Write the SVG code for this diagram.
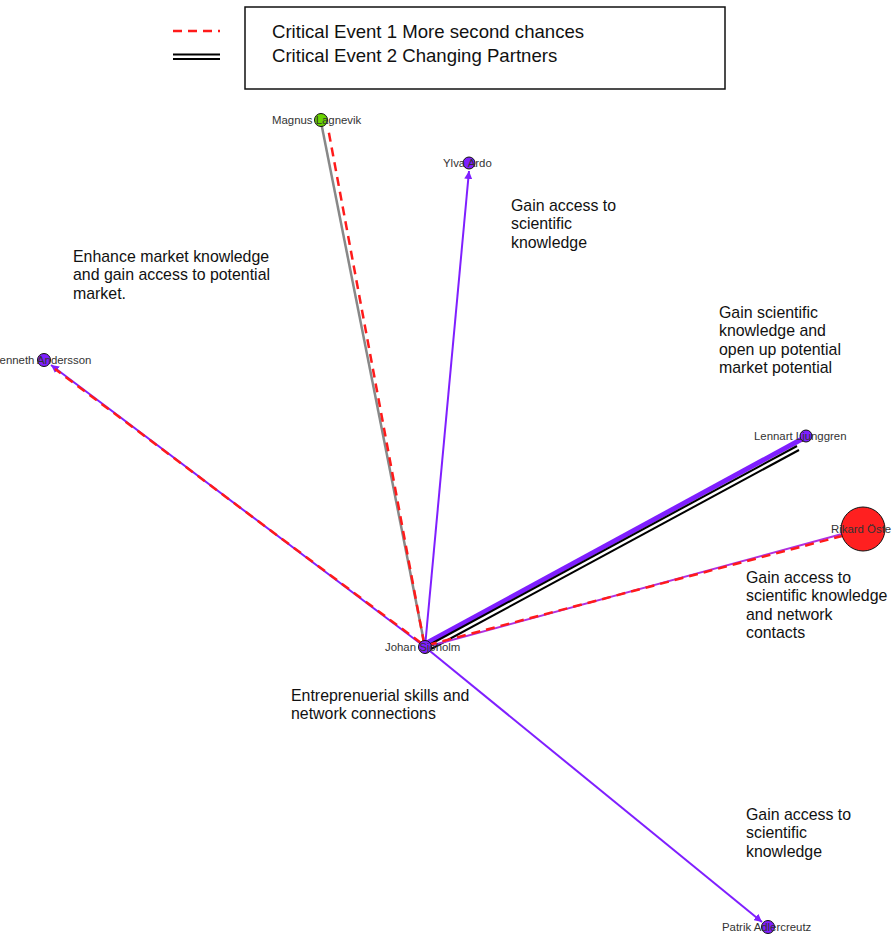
<svg xmlns="http://www.w3.org/2000/svg" width="896" height="938" viewBox="0 0 896 938">
<defs>
<marker id="arr" viewBox="0 0 10 10" refX="10" refY="5" markerWidth="4" markerHeight="4" orient="auto" markerUnits="strokeWidth">
<path d="M0,0 L10,5 L0,10 z" fill="#7f1fff"/>
</marker>
</defs>
<style>
.lbl{font-family:"Liberation Sans",Arial,sans-serif;font-size:11.4px;fill:#333}
.ann{font-family:"Liberation Sans",Arial,sans-serif;font-size:15.9px;fill:#111}
.leg{font-family:"Liberation Sans",Arial,sans-serif;font-size:18.6px;fill:#111}
.pur{stroke:#7f1fff;stroke-width:2;fill:none}
.red{stroke:#ff1a1a;stroke-width:2.5;stroke-dasharray:9 6;fill:none}
.node{stroke:#111;stroke-width:1}
</style>
<rect width="896" height="938" fill="#fff"/>
<g id="legend">
<rect x="245" y="7" width="480" height="82" fill="#fff" stroke="#111" stroke-width="1.5"/>
<line x1="173" y1="31" x2="220" y2="31" class="red"/>
<line x1="173" y1="54.5" x2="220" y2="54.5" stroke="#000" stroke-width="2"/>
<line x1="173" y1="59" x2="220" y2="59" stroke="#000" stroke-width="2"/>
<text x="272" y="37.5" class="leg">Critical Event 1 More second chances</text>
<text x="272" y="61.5" class="leg">Critical Event 2 Changing Partners</text>
</g>
<g id="connectors">
<line x1="425" y1="647" x2="321" y2="122" stroke="#888" stroke-width="2.5"/>
<line x1="424" y1="643" x2="328" y2="128" class="red"/>
<line x1="425" y1="647" x2="469" y2="171" class="pur" marker-end="url(#arr)"/>
<line x1="425" y1="647" x2="51" y2="365" class="pur" marker-end="url(#arr)"/>
<line x1="421" y1="643" x2="55" y2="369" class="red"/>
<line x1="425" y1="644" x2="802" y2="439" stroke="#7f1fff" stroke-width="5"/>
<line x1="429" y1="645" x2="797" y2="446" stroke="#000" stroke-width="2"/>
<line x1="431" y1="649" x2="799" y2="450" stroke="#000" stroke-width="2"/>
<line x1="426" y1="647" x2="842" y2="534" stroke="#b030e0" stroke-width="2"/>
<line x1="428" y1="645" x2="842" y2="536" class="red"/>
<line x1="425" y1="647" x2="762" y2="922" class="pur" marker-end="url(#arr)"/>
</g>
<g id="n-magnus">
<circle cx="321" cy="120" r="6.5" fill="#6ad400" class="node"/>
<text x="272" y="124" class="lbl">Magnus Lagnevik</text>
</g>
<g id="n-ylva">
<circle cx="469" cy="163" r="6" fill="#7f1fff" class="node"/>
<text x="443" y="167" class="lbl">Ylva Ardo</text>
</g>
<g id="n-kenneth">
<circle cx="44" cy="360" r="6.5" fill="#7f1fff" class="node"/>
<text x="-8" y="364" class="lbl">Kenneth Andersson</text>
</g>
<g id="n-lennart">
<circle cx="806" cy="436" r="6" fill="#7f1fff" class="node"/>
<text x="754" y="440" class="lbl">Lennart Ljunggren</text>
</g>
<g id="n-rikard">
<circle cx="863" cy="529" r="22" fill="#ff2020" class="node"/>
<text x="831" y="533" class="lbl">Rikard Öste</text>
</g>
<g id="n-johan">
<circle cx="425" cy="647" r="6.5" fill="#7f1fff" class="node"/>
<text x="385" y="651" class="lbl">Johan Sjoholm</text>
</g>
<g id="n-patrik">
<circle cx="768" cy="927" r="6.5" fill="#7f1fff" class="node"/>
<text x="722" y="931" class="lbl">Patrik Adlercreutz</text>
</g>
<g id="annotations">
<text class="ann"><tspan x="73" y="261.5">Enhance market knowledge</tspan><tspan x="73" y="280">and gain access to potential</tspan><tspan x="73" y="298.5">market.</tspan></text>
<text class="ann"><tspan x="511" y="210.5">Gain access to</tspan><tspan x="511" y="229">scientific</tspan><tspan x="511" y="247.5">knowledge</tspan></text>
<text class="ann"><tspan x="719" y="317.5">Gain scientific</tspan><tspan x="719" y="336">knowledge and</tspan><tspan x="719" y="354.5">open up potential</tspan><tspan x="719" y="373">market potential</tspan></text>
<text class="ann"><tspan x="746" y="582.5">Gain access to</tspan><tspan x="746" y="601">scientific knowledge</tspan><tspan x="746" y="619.5">and network</tspan><tspan x="746" y="638">contacts</tspan></text>
<text class="ann"><tspan x="291" y="700.5">Entreprenuerial skills and</tspan><tspan x="291" y="719">network connections</tspan></text>
<text class="ann"><tspan x="746" y="819.5">Gain access to</tspan><tspan x="746" y="838">scientific</tspan><tspan x="746" y="856.5">knowledge</tspan></text>
</g>
</svg>
